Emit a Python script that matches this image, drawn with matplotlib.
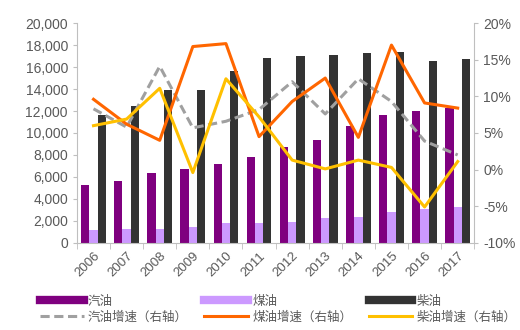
import numpy as np
import matplotlib
matplotlib.use("Agg")
import matplotlib.pyplot as plt
from matplotlib.lines import Line2D

plt.rcParams['font.family'] = ['Liberation Sans', 'Noto Sans CJK SC']

years = ['2006', '2007', '2008', '2009', '2010', '2011',
         '2012', '2013', '2014', '2015', '2016', '2017']
gasoline = [5300, 5600, 6400, 6700, 7200, 7800, 8700, 9400, 10600, 11600, 12000, 12250]
kerosene = [1200, 1250, 1270, 1450, 1790, 1850, 1940, 2250, 2340, 2790, 3060, 3300]
diesel = [11600, 12450, 13900, 13900, 15600, 16800, 17000, 17100, 17300, 17400, 16550, 16700]
gasoline_growth = [8.3, 5.8, 14.1, 5.7, 6.6, 8.2, 12.0, 7.6, 12.4, 9.3, 3.9, 2.0]
kerosene_growth = [9.6, 6.2, 4.0, 16.8, 17.2, 4.5, 9.3, 12.5, 4.4, 17.0, 9.1, 8.4]
diesel_growth = [6.0, 6.9, 11.1, -0.4, 12.4, 7.2, 1.3, 0.1, 1.3, 0.3, -5.1, 1.1]

c_gas = '#7F007F'
c_ker = '#CC99FF'
c_die = '#333333'
c_gas_g = '#A0A0A0'
c_ker_g = '#FF6600'
c_die_g = '#FFC000'
text_c = '#595959'
axis_c = '#BFBFBF'

fig = plt.figure(figsize=(5.2, 3.3), dpi=100)
ax = fig.add_axes([0.148, 0.264, 0.764, 0.666])
ax2 = ax.twinx()

x = np.arange(len(years))
w = 0.25
ax.bar(x - w, gasoline, w, color=c_gas, zorder=2)
ax.bar(x, kerosene, w, color=c_ker, zorder=2)
ax.bar(x + w, diesel, w, color=c_die, zorder=2)

ax2.plot(x, gasoline_growth, color=c_gas_g, lw=2.2, ls=(0, (3, 1.5)))
ax2.plot(x, kerosene_growth, color=c_ker_g, lw=2.2)
ax2.plot(x, diesel_growth, color=c_die_g, lw=2.2)

ax.set_xlim(-0.5, len(years) - 0.5)
ax.set_ylim(0, 20000)
ax.set_yticks(range(0, 20001, 2000))
ax.set_yticklabels([f'{v:,}' for v in range(0, 20001, 2000)])
ax.set_xticks(x)
ax.set_xticklabels(years, rotation=45, ha='right', rotation_mode='anchor')
ax.set_xticks(np.arange(-0.5, len(years), 1), minor=True)
ax.tick_params(axis='x', which='major', length=0, pad=5)
ax.tick_params(axis='x', which='minor', length=4, color=axis_c, direction='out')

ax2.set_ylim(-10, 20)
ax2.set_yticks(range(-10, 21, 5))
ax2.set_yticklabels([f'{v}%' for v in range(-10, 21, 5)])

for a in (ax, ax2):
    a.tick_params(axis='y', labelsize=10, colors=text_c, length=3, color=axis_c)
    a.spines['top'].set_visible(False)
    for s in ('left', 'right', 'bottom'):
        a.spines[s].set_color(axis_c)
ax.tick_params(axis='x', labelsize=9.5, colors=text_c)
ax.spines['right'].set_visible(False)
ax2.spines['left'].set_visible(False)
ax2.spines['bottom'].set_visible(False)

handles = [
    Line2D([], [], color=c_gas, lw=6),
    Line2D([], [], color=c_gas_g, lw=2.2, ls=(0, (3, 1.5))),
    Line2D([], [], color=c_ker, lw=6),
    Line2D([], [], color=c_ker_g, lw=2.2),
    Line2D([], [], color=c_die, lw=6),
    Line2D([], [], color=c_die_g, lw=2.2),
]
labels = ['汽油', '汽油增速（右轴）', '煤油', '煤油增速（右轴）', '柴油', '柴油增速（右轴）']
fig.legend(handles, labels, ncol=3, loc='lower left', bbox_to_anchor=(0.055, -0.015),
           frameon=False, fontsize=9, handlelength=3.5, handletextpad=0.35,
           columnspacing=1.3, labelspacing=0.3, labelcolor=text_c)

fig.savefig('out.png', dpi=100)
